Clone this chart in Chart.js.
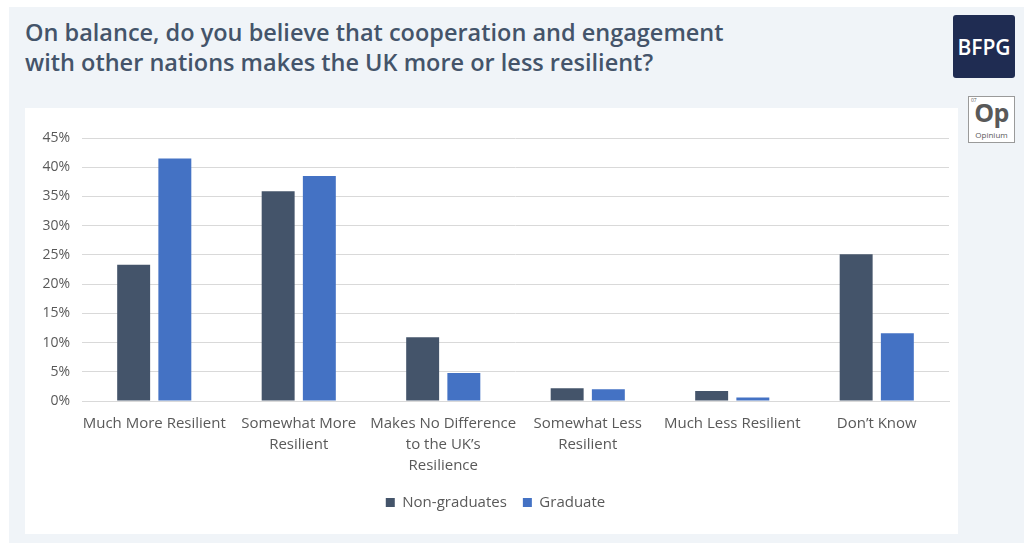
<!DOCTYPE html>
<html>
<head>
<meta charset="utf-8">
<script src="https://cdn.jsdelivr.net/npm/chart.js@4"></script>
<style>
  html, body { margin: 0; padding: 0; background: #ffffff; }
  body { width: 1024px; height: 543px; position: relative; overflow: hidden; font-family: 'Open Sans', sans-serif; }
  .panel { position: absolute; left: 9px; top: 7px; right: 0; bottom: 0; background: #f0f4f8; }
  .title { position: absolute; left: 25px; top: 17px; margin: 0; font-size: 23.5px; font-weight: 600; line-height: 30px; color: #44546a; }
  .chart-box { position: absolute; left: 25px; top: 108px; width: 933px; height: 426px; background: #ffffff; }
  .bfpg { position: absolute; left: 953px; top: 15px; width: 62px; height: 63px; background: #1f2c52; border-radius: 3px;
          color: #ffffff; font-size: 21px; font-weight: 600; display: flex; align-items: center; justify-content: center; }
  .opinium { position: absolute; left: 968px; top: 96px; width: 47px; height: 47px; border: 1px solid #9a9a9a; background: #ffffff; box-sizing: border-box; color: #595959; }
  .opinium .num { position: absolute; left: 2px; top: 0px; font-size: 5px; }
  .opinium .op { position: absolute; left: 0; right: 0; top: 0px; text-align: center; font-size: 25px; font-weight: 700; line-height: 30px; letter-spacing: -0.5px; }
  .opinium .name { position: absolute; left: 0; right: 0; top: 32px; text-align: center; font-size: 8px; }
</style>
</head>
<body>
<div class="panel"></div>
<h1 class="title">On balance, do you believe that cooperation and engagement<br>with other nations makes the UK more or less resilient?</h1>
<div class="bfpg">BFPG</div>
<div class="opinium"><span class="num">07</span><div class="op">Op</div><div class="name">Opinium</div></div>
<div class="chart-box"><canvas id="resilienceChart" width="933" height="426"></canvas></div>
<script>
// Survey answers and shares (%) per education group
const categories = [
    'Much More Resilient',
    ['Somewhat More', 'Resilient'],
    ['Makes No Difference', 'to the UK’s', 'Resilience'],
    ['Somewhat Less', 'Resilient'],
    'Much Less Resilient',
    'Don’t Know'
];
const nonGraduates = [23.3, 35.9, 10.9, 2.2, 1.7, 25.1];
const graduates = [41.5, 38.5, 4.8, 2.0, 0.6, 11.6];
const seriesNames = ['Non-graduates', 'Graduate'];
const yMax = 45;
const yStep = 5;

const ctx = document.getElementById('resilienceChart');
Chart.defaults.font.family = "'Open Sans', sans-serif";
Chart.defaults.color = '#595959';

new Chart(ctx, {
    type: 'bar',
    data: {
        labels: categories,
        datasets: [{
            label: seriesNames[0],
            data: nonGraduates,
            backgroundColor: '#44546a'
        }, {
            label: seriesNames[1],
            data: graduates,
            backgroundColor: '#4472c4'
        }]
    },
    options: {
        responsive: false,
        animation: false,
        categoryPercentage: 0.57,
        barPercentage: 0.8,
        layout: { padding: { top: 30, right: 9, bottom: 14, left: 17 } },
        scales: {
            y: {
                min: 0,
                max: yMax,
                border: { display: false },
                grid: { color: '#d9d9d9', lineWidth: 1, drawTicks: false },
                ticks: {
                    stepSize: yStep,
                    padding: 12,
                    font: { size: 14 },
                    callback: v => v + '%'
                },
                afterFit: axis => { axis.width = 40; }
            },
            x: {
                border: { color: '#d9d9d9' },
                grid: { display: false },
                ticks: {
                    autoSkip: false,
                    maxRotation: 0,
                    padding: 4,
                    font: { size: 15, lineHeight: 1.4 }
                },
                afterFit: axis => { axis.height = 78; }
            }
        },
        plugins: {
            legend: {
                position: 'bottom',
                labels: {
                    boxWidth: 9,
                    boxHeight: 9,
                    padding: 16,
                    font: { size: 15 },
                    color: '#595959'
                }
            },
            tooltip: { enabled: false }
        }
    }
});
</script>
</body>
</html>
